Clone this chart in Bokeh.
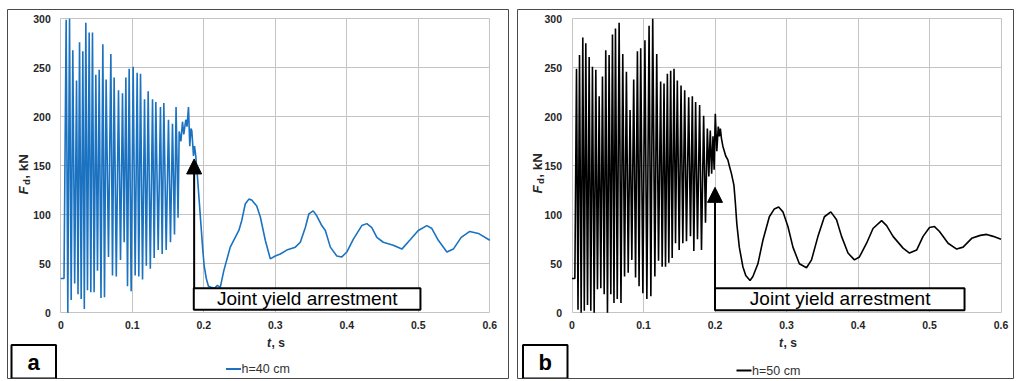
from math import pi
from bokeh.plotting import figure
from bokeh.layouts import row
from bokeh.models import (Range1d, FixedTicker, NumeralTickFormatter, Label,
                          BoxAnnotation, Arrow, NormalHead, ColumnDataSource)
from bokeh.embed import file_html
from bokeh.resources import INLINE

# ---------------- data ----------------
x_ticks = [0, 0.1, 0.2, 0.3, 0.4, 0.5, 0.6]
y_ticks = [0, 50, 100, 150, 200, 250, 300]

# panel a : h = 40 cm
a_start_t = [0.0, 0.0045]
a_start_f = [35, 35]
a_peak_t = [0.0075, 0.0122, 0.0168, 0.0220, 0.0262, 0.0308, 0.0350, 0.0397, 0.0443, 0.0490,
            0.0537, 0.0588, 0.0634, 0.0700, 0.0746, 0.0807, 0.0863, 0.0910, 0.0956, 0.1012,
            0.1068, 0.1115, 0.1171, 0.1222, 0.1283, 0.1329, 0.1394, 0.1441, 0.1506, 0.1562,
            0.1612]
a_peak_f = [299, 300, 268, 237, 276, 267, 296, 286, 286, 243,
            248, 274, 238, 264, 240, 227, 224, 240, 249, 251,
            245, 244, 218, 226, 218, 215, 210, 214, 197, 193,
            210]
a_trough_t = [0.0098, 0.0145, 0.0194, 0.0241, 0.0285, 0.0329, 0.0373, 0.0420, 0.0466, 0.0513,
              0.0562, 0.0611, 0.0667, 0.0723, 0.0776, 0.0835, 0.0886, 0.0933, 0.0984, 0.1040,
              0.1091, 0.1143, 0.1196, 0.1252, 0.1306, 0.1362, 0.1418, 0.1474, 0.1534, 0.1590]
a_trough_f = [0, 13, 30, 19, 14, 4, 23, 21, 21, 43,
              15, 16, 57, 38, 37, 54, 72, 27, 22, 38,
              37, 34, 48, 45, 56, 64, 60, 64, 72, 80]
a_tail_t = [0.1640, 0.1656, 0.1680, 0.1702, 0.1720, 0.1748, 0.1765, 0.1786, 0.1804, 0.1820,
            0.1832, 0.1845, 0.1856, 0.1870, 0.1888, 0.1910, 0.1935, 0.1958, 0.1985, 0.2005,
            0.2035, 0.2065, 0.2100, 0.2150, 0.2190, 0.2230, 0.2280, 0.237, 0.249, 0.253,
            0.258, 0.263, 0.267, 0.274, 0.279, 0.286, 0.293, 0.300, 0.307, 0.316,
            0.328, 0.335, 0.342, 0.347, 0.353, 0.358, 0.365, 0.370, 0.377, 0.386,
            0.393, 0.400, 0.409, 0.421, 0.428, 0.435, 0.442, 0.451, 0.465, 0.477,
            0.488, 0.500, 0.512, 0.519, 0.528, 0.540, 0.549, 0.560, 0.572, 0.584,
            0.600]
a_tail_f = [97, 185, 175, 195, 182, 197, 190, 210, 170, 188,
            186, 172, 160, 170, 160, 140, 115, 92, 65, 48,
            35, 27, 26, 25, 28, 26, 43, 67, 84, 94,
            111, 116, 115, 109, 98, 74, 55, 58, 60, 64,
            67, 72, 87, 101, 104, 99, 89, 84, 67, 58,
            57, 62, 75, 89, 91, 87, 77, 72, 69, 65,
            74, 84, 89, 86, 74, 62, 65, 77, 83, 81,
            74]

# panel b : h = 50 cm
b_start_t = [0.0, 0.004]
b_start_f = [35, 35]
b_peak_t = [0.0063, 0.0105, 0.0151, 0.0193, 0.0240, 0.0286, 0.0333, 0.0380, 0.0426, 0.0472,
            0.0519, 0.0566, 0.0608, 0.0659, 0.0710, 0.0761, 0.0812, 0.0863, 0.0915, 0.0961,
            0.1020, 0.1078, 0.1129, 0.1185, 0.1240, 0.1287, 0.1334, 0.1380, 0.1427, 0.1473,
            0.1525, 0.1576, 0.1632, 0.1683, 0.1729, 0.1785, 0.1841, 0.1893, 0.1934, 0.1972,
            0.2004]
b_peak_f = [249, 263, 281, 275, 261, 251, 248, 221, 241, 268,
            263, 284, 290, 296, 264, 246, 207, 238, 267, 270,
            278, 293, 300, 264, 236, 234, 244, 247, 249, 237,
            232, 227, 220, 221, 215, 212, 201, 188, 186, 180,
            203]
b_trough_t = [0.0084, 0.0128, 0.0172, 0.0217, 0.0263, 0.0310, 0.0356, 0.0403, 0.0450, 0.0496,
              0.0543, 0.0587, 0.0633, 0.0685, 0.0735, 0.0786, 0.0837, 0.0889, 0.0938, 0.0991,
              0.1047, 0.1103, 0.1159, 0.1210, 0.1261, 0.1308, 0.1354, 0.1401, 0.1448, 0.1499,
              0.1550, 0.1601, 0.1657, 0.1704, 0.1755, 0.1811, 0.1867, 0.1914, 0.1953, 0.1988]
b_trough_f = [3, 0, 2, 8, 2, 0, 24, 25, 19, 0,
              19, 10, 14, 10, 37, 41, 54, 36, 27, 20,
              14, 17, 37, 53, 47, 47, 51, 56, 71, 64,
              71, 73, 78, 63, 75, 64, 92, 139, 142, 146]
b_tail_t = [0.2025, 0.2046, 0.2060, 0.2075, 0.2090, 0.2110, 0.2150, 0.2180, 0.2200, 0.2230,
            0.2265, 0.2285, 0.2305, 0.234, 0.239, 0.243, 0.249, 0.253, 0.260, 0.267,
            0.276, 0.283, 0.289, 0.295, 0.302, 0.309, 0.318, 0.328, 0.335, 0.344,
            0.353, 0.362, 0.370, 0.377, 0.386, 0.395, 0.402, 0.412, 0.421, 0.433,
            0.440, 0.449, 0.463, 0.472, 0.482, 0.491, 0.500, 0.507, 0.514, 0.526,
            0.538, 0.547, 0.559, 0.571, 0.580, 0.589, 0.600]
b_tail_f = [165, 190, 180, 188, 178, 170, 160, 156, 150, 142,
            130, 112, 91, 67, 47, 38, 33, 37, 50, 74,
            98, 106, 108, 103, 88, 67, 50, 46, 54, 78,
            98, 103, 95, 78, 61, 54, 57, 71, 86, 94,
            89, 78, 66, 61, 64, 78, 87, 88, 83, 71,
            65, 67, 76, 79, 80, 78, 75]

# annotation values (data units)
a_box = (0.186, 0.503, 3, 25)     # joint yield box: left, right, bottom, top
b_box = (0.200, 0.549, 2.5, 25)
a_arrow = (0.1865, 25, 157)
b_arrow = (0.200, 25, 128)


def series(*parts):
    pts = sorted(pair for ts, fs in parts for pair in zip(ts, fs))
    return [p[0] for p in pts], [p[1] for p in pts]


FONT = "Liberation Sans"
GRID = "#c4c4c4"
TXT = "#262626"


def make_panel(t, f, color, page_left, width, margin, x0_page, x6_page, box, arrow, note_x,
               legend_txt, tag, ylab_x, ylab_bottom, xlab_x, leg_x0, leg_y, tag_x):
    height = 371
    page_top = 8
    mb = 1
    fw, fh = width - 2 * mb, height - 2 * mb
    fl, ft = page_left + mb, page_top + mb          # frame origin on the page
    y300_page, y0_page = 18.3, 312.3
    pxu = (x6_page - x0_page) / 0.6
    ppy = (y0_page - y300_page) / 300.0
    xs = -(x0_page - fl) / pxu
    xe = (fl + fw - x0_page) / pxu
    ye = 300 + (y300_page - ft) / ppy
    ys = -(ft + fh - y0_page) / ppy

    def dx(px):
        return (px - x0_page) / pxu

    def dy(py):
        return (y0_page - py) / ppy

    p = figure(width=width, height=height, output_backend="svg", toolbar_location=None,
               x_range=Range1d(xs, xe), y_range=Range1d(ys, ye),
               min_border=mb, min_border_left=mb, min_border_right=mb,
               min_border_top=mb, min_border_bottom=mb, margin=margin,
               background_fill_color="white", border_fill_color="white",
               outline_line_color="#4a4a4a", outline_line_width=1)

    # axes drawn at the data origin, inside the frame
    for ax in (p.xaxis[0], p.yaxis[0]):
        ax.fixed_location = 0
        ax.axis_line_color = None
        ax.major_tick_line_color = None
        ax.minor_tick_line_color = None
        ax.major_tick_out = 0
        ax.major_tick_in = 0
        ax.major_label_text_font = FONT
        ax.major_label_text_font_style = "bold"
        ax.major_label_text_font_size = "10.5px"
        ax.major_label_text_color = TXT
    p.xaxis.ticker = FixedTicker(ticks=x_ticks)
    p.yaxis.ticker = FixedTicker(ticks=y_ticks)
    p.xaxis.formatter = NumeralTickFormatter(format="0.[0]")
    p.xaxis.major_label_standoff = 8
    p.yaxis.major_label_standoff = 10

    # grid limited to the plot area
    for g, ticks, cb in ((p.xgrid[0], x_ticks, (0, 300)), (p.ygrid[0], y_ticks, (0, 0.6))):
        g.ticker = FixedTicker(ticks=ticks)
        g.grid_line_color = GRID
        g.grid_line_width = 1
        g.cross_bounds = cb

    src = ColumnDataSource(dict(t=t, f=f))
    p.line("t", "f", source=src, line_color=color, line_width=1.6)

    # joint yield arrestment box + arrow
    l, r, b, tp = box
    p.add_layout(BoxAnnotation(left=l, right=r, bottom=b, top=tp, fill_color="white",
                               fill_alpha=1, line_color="black", line_width=2, line_alpha=1))
    p.add_layout(Label(x=note_x, y=(b + tp) / 2 + 1, text="Joint yield arrestment",
                       text_align="center", text_baseline="middle", text_font=FONT,
                       text_font_size="19px", text_color="black"))
    ax_, y0, y1 = arrow
    p.add_layout(Arrow(x_start=ax_, y_start=y0, x_end=ax_, y_end=y1, line_color="black",
                       line_width=2,
                       end=NormalHead(size=15, fill_color="black", line_color="black")))

    # y axis label  F_d, kN  (rotated)
    fs_main = 13.5
    w_F = 0.7 * fs_main
    w_d = 0.611 * 9.5
    p.add_layout(Label(x=dx(ylab_x), y=dy(ylab_bottom), text="F", angle=pi / 2,
                       text_align="left", text_baseline="middle", text_font=FONT,
                       text_font_size=f"{fs_main}px", text_font_style="bold italic",
                       text_color=TXT))
    p.add_layout(Label(x=dx(ylab_x + 3.5), y=dy(ylab_bottom - w_F), text="d",
                       angle=pi / 2, text_align="left", text_baseline="middle",
                       text_font=FONT, text_font_size="9.5px", text_font_style="bold",
                       text_color=TXT))
    p.add_layout(Label(x=dx(ylab_x), y=dy(ylab_bottom - w_F - w_d - 0.5), text=", kN",
                       angle=pi / 2, text_align="left", text_baseline="middle",
                       text_font=FONT, text_font_size=f"{fs_main}px",
                       text_font_style="bold", text_color=TXT))

    # x axis label  t, s
    xl_y = dy(342)
    p.add_layout(Label(x=dx(xlab_x - 4.5), y=xl_y, text="t", text_align="right",
                       text_baseline="middle", text_font=FONT, text_font_size="12px",
                       text_font_style="bold italic", text_color=TXT))
    p.add_layout(Label(x=dx(xlab_x - 4.0), y=xl_y, text=", s", text_align="left",
                       text_baseline="middle", text_font=FONT, text_font_size="12px",
                       text_font_style="bold", text_color=TXT))

    # legend
    lg_y = dy(leg_y)
    p.add_layout(Arrow(x_start=dx(leg_x0), y_start=lg_y, x_end=dx(leg_x0 + 15), y_end=lg_y,
                       end=None, line_color=color, line_width=2))
    p.add_layout(Label(x=dx(leg_x0 + 15.5), y=lg_y, text=legend_txt, text_align="left",
                       text_baseline="middle", text_font=FONT, text_font_size="12.5px",
                       text_color="#333333"))

    # panel tag
    p.add_layout(BoxAnnotation(left=dx(tag_x), right=dx(tag_x + 44.5), bottom=dy(378),
                               top=dy(344.5), fill_color="white", fill_alpha=1,
                               line_color="black", line_width=2, line_alpha=1))
    p.add_layout(Label(x=dx(tag_x + 22.2), y=dy(361.5), text=tag, text_align="center",
                       text_baseline="middle", text_font=FONT, text_font_size="22px",
                       text_font_style="bold", text_color="black"))
    return p


ta, fa = series((a_start_t, a_start_f), (a_peak_t, a_peak_f),
                (a_trough_t, a_trough_f), (a_tail_t, a_tail_f))
tb, fb = series((b_start_t, b_start_f), (b_peak_t, b_peak_f),
                (b_trough_t, b_trough_f), (b_tail_t, b_tail_f))

pa = make_panel(ta, fa, "#1a72c0", 6, 503, (8, 0, 0, 6), 60.3, 489.3, a_box, a_arrow,
                0.3446, "h=40 cm", "a", ylab_x=22.5, ylab_bottom=194, xlab_x=275,
                leg_x0=225.5, leg_y=368.5, tag_x=11)
pb = make_panel(tb, fb, "black", 516, 498, (8, 0, 0, 7), 571.5, 1000.5, b_box, b_arrow,
                0.375, "h=50 cm", "b", ylab_x=536.5, ylab_bottom=193, xlab_x=787,
                leg_x0=736, leg_y=370, tag_x=522.5)

layout = row(pa, pb)
open("out.html", "w").write(file_html(layout, INLINE))
